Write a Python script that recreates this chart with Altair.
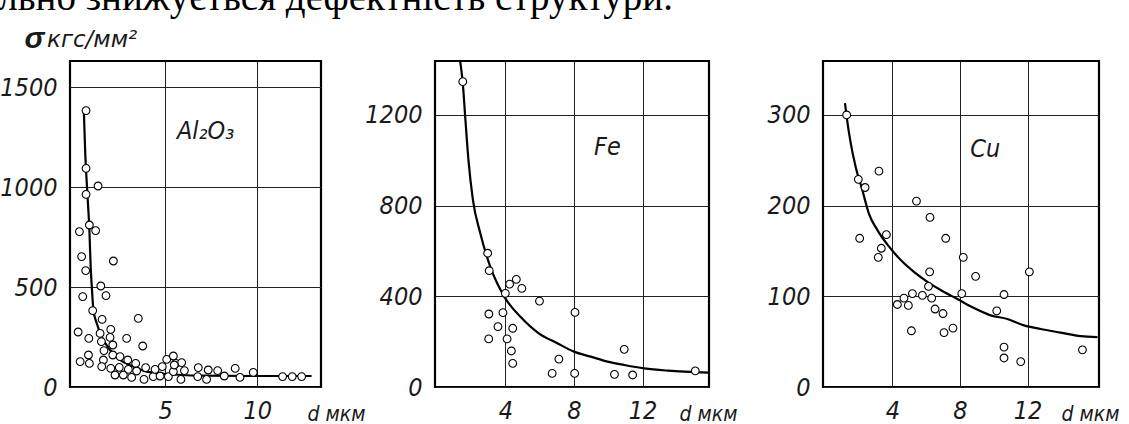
import altair as alt
import pandas as pd

# ---------------- data ----------------
al_d = [0.72, 0.72, 1.37, 0.72, 0.9, 0.36, 1.24, 0.48, 2.2, 0.7,
        1.52, 0.54, 1.8, 1.08, 3.55, 1.59, 0.29, 2.06, 1.48, 0.87,
        2.02, 2.92, 1.55, 2.17, 3.79, 1.69, 0.85, 0.4, 0.9, 1.66,
        2.17, 2.56, 2.98, 3.41, 1.57, 2.06, 2.52, 3.01, 2.29, 2.74,
        3.19, 3.46, 3.86, 3.95, 4.36, 4.46, 4.73, 4.85, 5.09, 5.18,
        5.45, 5.58, 5.9, 5.45, 6.05, 5.86, 6.8, 6.77, 7.34, 7.25,
        7.85, 8.21, 8.8, 9.06, 9.78, 11.37, 11.89, 12.4, 5.5]
al_s = [1382, 1093, 1005, 963, 810, 777, 782, 652, 630, 582,
        505, 452, 457, 382, 343, 338, 275, 288, 268, 243,
        248, 243, 227, 210, 205, 182, 160, 127, 118, 135,
        160, 152, 135, 118, 102, 93, 98, 88, 60, 60,
        48, 80, 38, 97, 52, 88, 55, 102, 138, 52,
        155, 118, 122, 77, 82, 38, 97, 52, 85, 38,
        82, 55, 93, 48, 73, 52, 52, 52, 110]
al_curve_d = [0.6, 0.67, 0.79, 0.9, 0.97, 1.03, 1.12, 1.3, 1.57, 2.02, 2.56,
              3.28, 4.0, 5.09, 6.89, 9.78, 12.94]
al_curve_s = [1380, 1185, 968, 785, 602, 502, 385, 318, 252, 185, 135,
              102, 77, 65, 57, 55, 55]

fe_d = [1.52, 2.97, 3.06, 4.25, 4.64, 4.96, 4.0, 5.99, 3.04, 3.86, 8.06, 3.57,
        4.43, 3.03, 4.1, 4.35, 4.43, 7.12, 10.93, 6.73, 8.04, 10.36, 11.42, 15.07]
fe_s = [1347, 590, 513, 454, 475, 435, 413, 379, 322, 328, 329, 266,
        259, 212, 212, 159, 104, 123, 166, 60, 60, 56, 53, 71]
fe_curve_d = [1.37, 1.52, 1.66, 1.85, 2.11, 2.54, 3.12, 4.0, 4.88, 5.95, 7.03,
              8.0, 8.98, 9.95, 10.93, 12.1, 13.47, 15.81]
fe_curve_s = [1435, 1339, 1192, 1001, 825, 678, 531, 391, 310, 237, 193,
              156, 134, 112, 97, 82, 72, 63]

cu_d = [1.3, 1.99, 2.39, 3.21, 5.43, 6.23, 2.07, 3.65, 7.16, 3.35,
        3.17, 8.2, 6.21, 8.93, 12.11, 6.14, 5.19, 4.69, 5.78, 6.33,
        8.11, 10.61, 4.3, 4.95, 6.53, 7.0, 10.18, 5.13, 7.06, 7.59,
        10.61, 10.61, 11.6, 15.25]
cu_s = [300, 229, 220, 238, 205, 187, 164, 168, 164, 153,
        143, 143, 127, 122, 127, 111, 103, 98, 101, 98,
        103, 102, 91, 90, 86, 81, 84, 62, 60, 65,
        44, 32, 28, 41]
cu_curve_d = [1.2, 1.3, 1.54, 1.83, 2.23, 2.62, 3.12, 3.8, 4.5, 5.28, 6.08,
              6.86, 7.85, 8.83, 9.82, 10.81, 11.79, 12.78, 13.96, 15.15, 16.14]
cu_curve_s = [313, 298, 269, 243, 217, 191, 173, 155, 140, 127, 116,
              107, 97, 87, 79, 75, 68, 64, 60, 56, 55]

al_xticks = [5, 10]
al_yticks = [0, 500, 1000, 1500]
fe_xticks = [4, 8, 12]
fe_yticks = [0, 400, 800, 1200]
cu_xticks = [4, 8, 12]
cu_yticks = [0, 100, 200, 300]

panel_names = ["Al₂O₃", "Fe", "Cu"]
name_d = [7.2, 9.95, 9.5]
name_s = [1280, 1058, 263]

x_title = "d мкм"
y_symbol = "σ"
y_unit = "кгс/мм²"
top_line = "радикально знижується дефектність структури."

# ---------------- styling ----------------
FONT = "Liberation Sans Narrow, DejaVu Sans Condensed, Liberation Sans, sans-serif"
INK = "#1a1a1a"


def panel(pd_, ps_, cd_, cs_, xdom, ydom, xticks, yticks, width,
          name, nd, ns, title_x, first=False):
    pts = pd.DataFrame({"d": pd_, "s": ps_})
    crv = pd.DataFrame({"d": cd_, "s": cs_})
    lab = pd.DataFrame({"d": [nd], "s": [ns], "t": [name]})

    xs = alt.Scale(domain=xdom, nice=False, zero=False)
    ys = alt.Scale(domain=ydom, nice=False, zero=False)

    xaxis = alt.Axis(values=xticks, format="d", grid=True, gridColor="#222",
                     gridWidth=1, domain=False, ticks=False, tickSize=0,
                     labelFont=FONT, labelFontSize=25, labelFontStyle="italic",
                     labelColor=INK, labelPadding=11, labelFlush=False,
                     title=x_title, titleX=title_x, titleY=33,
                     titleAlign="left", titleBaseline="alphabetic",
                     titleFont=FONT, titleFontSize=21, titleFontStyle="italic",
                     titleFontWeight="normal", titleColor=INK)
    common_y = dict(values=yticks, format="d", grid=True, gridColor="#222",
                    gridWidth=1, domain=False, ticks=False, tickSize=0,
                    labelFont=FONT, labelFontSize=25, labelFontStyle="italic",
                    labelColor=INK, labelPadding=13, labelFlush=False)
    if first:
        yaxis = alt.Axis(**common_y,
                         title=y_symbol, titleAngle=0, titleX=-46, titleY=-14,
                         titleAlign="left", titleBaseline="alphabetic",
                         titleFont="Liberation Sans, DejaVu Sans, sans-serif",
                         titleFontSize=30, titleFontStyle="italic",
                         titleFontWeight="bold", titleColor=INK)
    else:
        yaxis = alt.Axis(**common_y, title=None)

    line = alt.Chart(crv).mark_line(color="black", strokeWidth=2.2,
                                    interpolate="monotone", clip=True).encode(
        x=alt.X("d:Q", scale=xs, axis=xaxis),
        y=alt.Y("s:Q", scale=ys, axis=yaxis),
        order="d:Q",
    )
    dots = alt.Chart(pts).mark_point(shape="circle", filled=True, fill="white",
                                     stroke="black", strokeWidth=1.1, size=60,
                                     opacity=1).encode(
        x=alt.X("d:Q", scale=xs),
        y=alt.Y("s:Q", scale=ys),
    )
    label = alt.Chart(lab).mark_text(font=FONT, fontSize=25, fontStyle="italic",
                                     color=INK, align="center",
                                     baseline="middle").encode(
        x=alt.X("d:Q", scale=xs),
        y=alt.Y("s:Q", scale=ys),
        text="t:N",
    )
    layers = [line, dots, label]
    if first:
        unit = alt.Chart(pd.DataFrame({"t": [y_unit]})).mark_text(
            font="DejaVu Sans, Liberation Sans, sans-serif", fontSize=23,
            fontStyle="italic", color=INK, align="left",
            baseline="alphabetic").encode(
            x=alt.value(-23), y=alt.value(-14), text="t:N")
        top = alt.Chart(pd.DataFrame({"t": [top_line]})).mark_text(
            font="Liberation Serif, Times New Roman, serif", fontSize=39,
            color="black", align="right", baseline="alphabetic").encode(
            x=alt.value(603), y=alt.value(-51), text="t:N")
        layers += [unit, top]
    return alt.layer(*layers).properties(width=width, height=326)


p1 = panel(al_d, al_s, al_curve_d, al_curve_s, [-0.15, 13.45], [0, 1630],
           al_xticks, al_yticks, 251, panel_names[0], name_d[0], name_s[0],
           237, first=True)
p2 = panel(fe_d, fe_s, fe_curve_d, fe_curve_s, [-0.1, 15.87], [0, 1438],
           fe_xticks, fe_yticks, 274, panel_names[1], name_d[1], name_s[1], 244)
p3 = panel(cu_d, cu_s, cu_curve_d, cu_curve_s, [-0.1, 16.23], [0, 359.5],
           cu_xticks, cu_yticks, 276, panel_names[2], name_d[2], name_s[2], 238)

chart = alt.hconcat(p1, p2, p3, spacing=114).properties(
    bounds="flush",
    autosize=alt.AutoSizeParams(type="none"),
    padding={"left": 70, "top": 61, "right": 1059, "bottom": 363},
    background="white",
).configure_view(stroke="black", strokeWidth=2.2)

chart.save("out.html", embed_options={"renderer": "svg", "actions": False})
